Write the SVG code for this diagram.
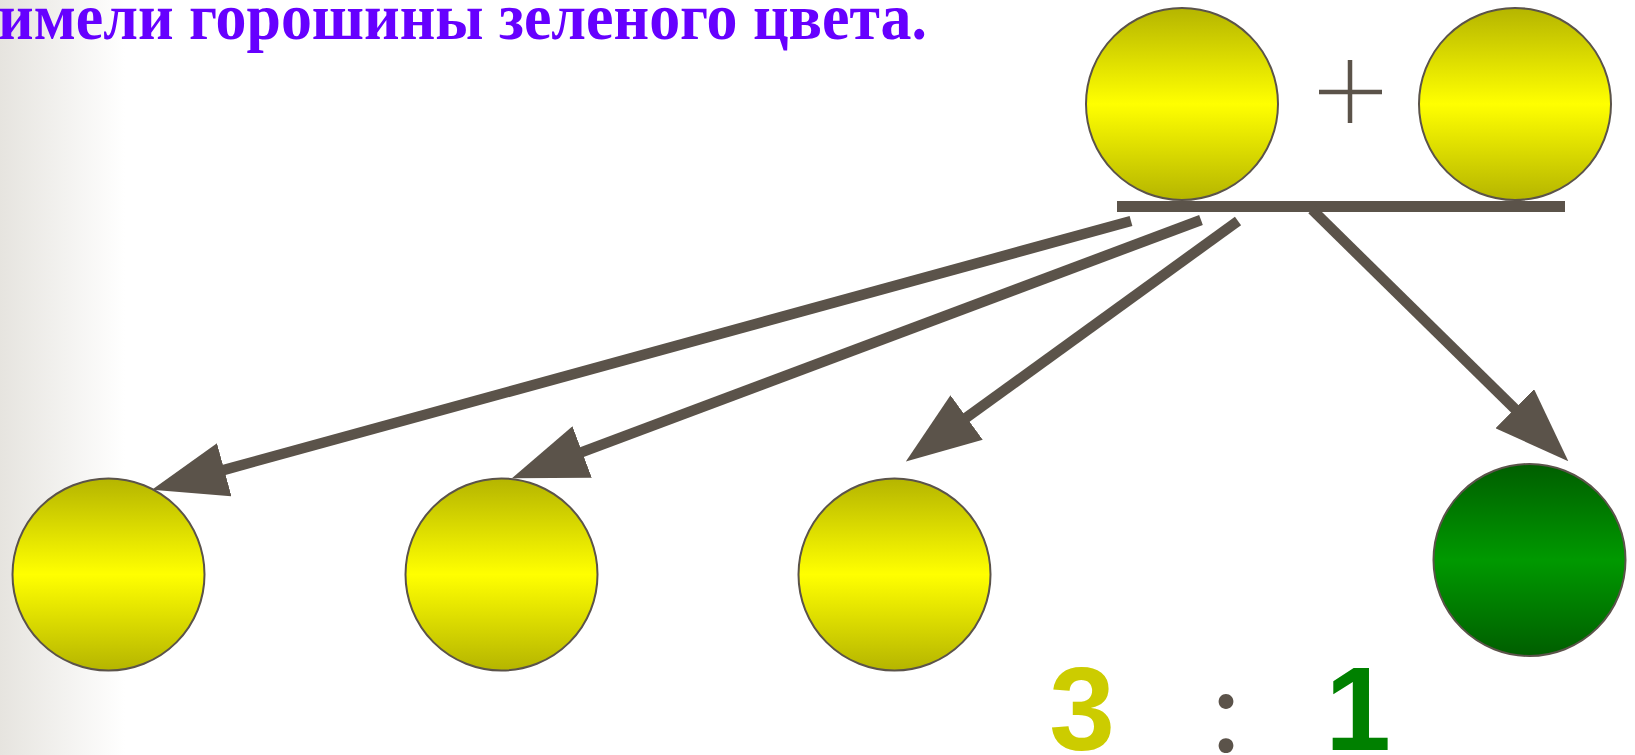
<svg xmlns="http://www.w3.org/2000/svg" width="1635" height="755" viewBox="0 0 1635 755">
  <defs>
    <linearGradient id="bg" x1="0" y1="0" x2="1" y2="0">
      <stop offset="0" stop-color="#E6E4DF"/>
      <stop offset="1" stop-color="#FFFFFF"/>
    </linearGradient>
    <linearGradient id="yel" x1="0" y1="0" x2="0" y2="1">
      <stop offset="0" stop-color="#B5B500"/>
      <stop offset="0.5" stop-color="#FFFF00"/>
      <stop offset="1" stop-color="#B5B500"/>
    </linearGradient>
    <linearGradient id="grn" x1="0" y1="0" x2="0" y2="1">
      <stop offset="0" stop-color="#005E00"/>
      <stop offset="0.5" stop-color="#009900"/>
      <stop offset="1" stop-color="#005E00"/>
    </linearGradient>
    <marker id="head" viewBox="0 -27.5 75 55" markerWidth="75" markerHeight="55" refX="1" refY="0" orient="auto" markerUnits="userSpaceOnUse">
      <path d="M0,-27.5 L75,0 L0,27.5 z" fill="#5B534A"/>
    </marker>
    <style>
      .pea { stroke: #5B534A; stroke-width: 2; }
      .y { fill: url(#yel); }
      .g { fill: url(#grn); }
      .conn { stroke: #5B534A; stroke-width: 10.5; fill: none; marker-end: url(#head); }
      .title { font-family: "Liberation Serif", "Times New Roman", serif; font-weight: bold; font-size: 66px; fill: #6600FF; }
      .num { font-family: "Liberation Sans", Arial, sans-serif; font-weight: bold; font-size: 118px; text-anchor: middle; }
      .colon { font-family: Lato, "Liberation Sans", sans-serif; font-weight: normal; font-size: 118px; text-anchor: middle; }
    </style>
  </defs>
  <rect x="0" y="0" width="1635" height="755" fill="#FFFFFF"/>
  <rect x="0" y="0" width="125" height="755" fill="url(#bg)"/>

  <text class="title" x="-2" y="39" textLength="929" lengthAdjust="spacingAndGlyphs">имели горошины зеленого цвета.</text>

  <g id="parent1"><circle class="pea y" cx="1182" cy="104" r="96"/></g>
  <g id="plus"><path d="M1319,92 H1382 M1350,60 V123" stroke="#5B534A" stroke-width="4.5" fill="none"/></g>
  <g id="parent2"><circle class="pea y" cx="1515" cy="104" r="96"/></g>
  <g id="bar"><rect x="1117" y="201" width="448" height="11" fill="#5B534A"/></g>

  <g id="connectors">
    <line class="conn" x1="1131" y1="221" x2="223.3" y2="470.1"/>
    <line class="conn" x1="1201" y1="220" x2="581.2" y2="452.3"/>
    <line class="conn" x1="1238" y1="221" x2="965.8" y2="418"/>
    <line class="conn" x1="1312" y1="209.6" x2="1515.5" y2="409.4"/>
  </g>

  <g id="child1"><circle class="pea y" cx="108.5" cy="574.5" r="96"/></g>
  <g id="child2"><circle class="pea y" cx="501.5" cy="574.5" r="96"/></g>
  <g id="child3"><circle class="pea y" cx="894.5" cy="574.5" r="96"/></g>
  <g id="child4"><circle class="pea g" cx="1529.5" cy="560" r="96"/></g>

  <g id="ratio">
    <text class="num" x="1082" y="750" fill="#CCCC00">3</text>
    <text class="colon" x="1226" y="752" fill="#5B534A">:</text>
    <text class="num" x="1358" y="750" fill="#008000">1</text>
  </g>
</svg>
